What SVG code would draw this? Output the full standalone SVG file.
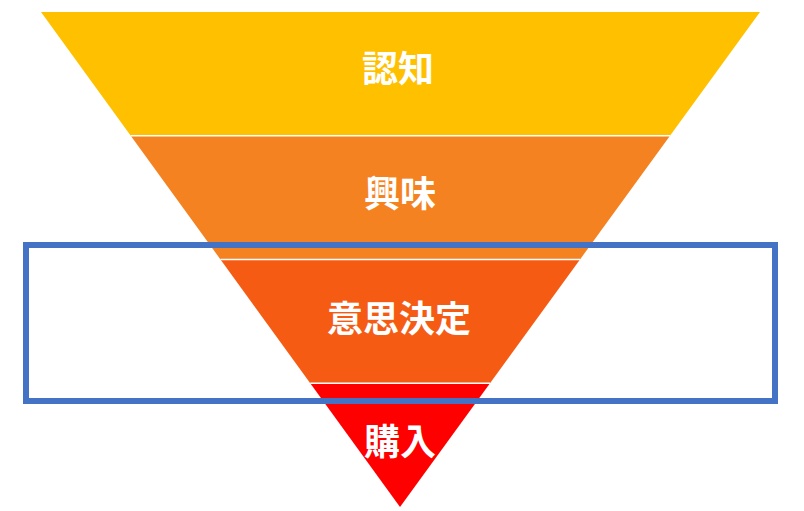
<svg xmlns="http://www.w3.org/2000/svg" width="804" height="511" viewBox="0 0 804 511">
<style>
.lbl{font-family:"Noto Sans CJK JP","Noto Sans CJK SC",sans-serif;font-weight:700;font-size:36px;fill:#ffffff;text-anchor:middle;dominant-baseline:central}
.sep{stroke:#ffffff;stroke-width:1.5}
</style>
<rect width="804" height="511" fill="#ffffff"/>
<g id="node-ninchi">
<polygon points="41,12 760,12 670,135.75 130.75,135.75" fill="#FFC000"/>
<text class="lbl" x="398" y="66">認知</text>
</g>
<g id="node-kyoumi">
<polygon points="130.75,135.75 670,135.75 580,259.5 220.5,259.5" fill="#F58220"/>
<text class="lbl" x="400" y="191">興味</text>
</g>
<g id="node-ishikettei">
<polygon points="220.5,259.5 580,259.5 490,383.25 310.25,383.25" fill="#F65B14"/>
<text class="lbl" x="399" y="316">意思決定</text>
</g>
<g id="node-kounyu">
<polygon points="310.25,383.25 490,383.25 400,507" fill="#FF0000"/>
<text class="lbl" x="400" y="439">購入</text>
</g>
<g id="separators">
<line class="sep" x1="130.75" y1="135.75" x2="670" y2="135.75"/>
<line class="sep" x1="220.5" y1="259.5" x2="580" y2="259.5"/>
<line class="sep" x1="310.25" y1="383.25" x2="490" y2="383.25"/>
</g>
<g id="highlight">
<rect x="26" y="245" width="749" height="156" fill="none" stroke="#4472C4" stroke-width="6"/>
</g>
</svg>
